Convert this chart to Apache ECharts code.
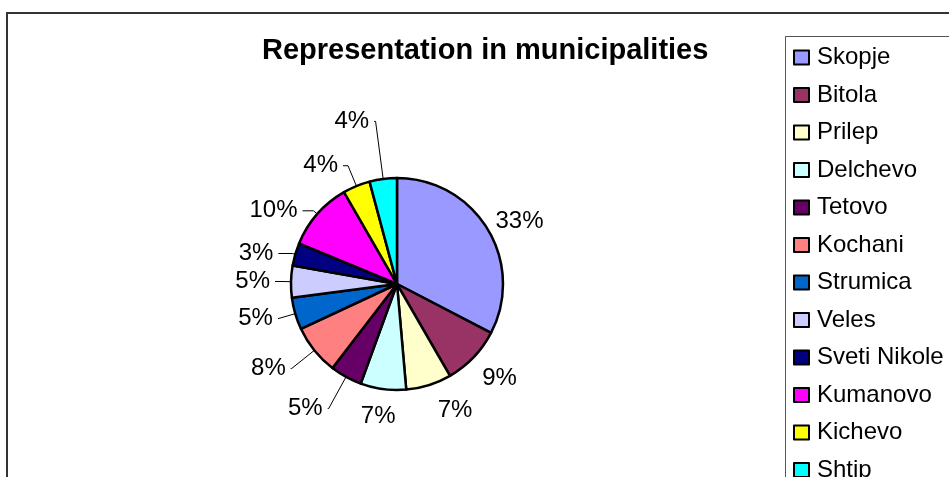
<!DOCTYPE html>
<html><head><meta charset="utf-8">
<script src="https://cdn.jsdelivr.net/npm/echarts@6/dist/echarts.min.js"></script>
<style>html,body{margin:0;padding:0;background:#fff}#c{width:949px;height:477px}</style>
</head><body><div id="c"></div>
<script>
const categories = ['Skopje','Bitola','Prilep','Delchevo','Tetovo','Kochani','Strumica','Veles','Sveti Nikole','Kumanovo','Kichevo','Shtip'];
const counts = [47,13,10,10,7,11,7,7,5,15,6,6];
const colors = ['#9999FF','#993366','#FFFFCC','#CCFFFF','#660066','#FF8080','#0066CC','#CCCCFF','#000080','#FF00FF','#FFFF00','#00FFFF'];
const titleText = 'Representation in municipalities';

// label line styling per slice: [length, length2, showLine]
const labelLineStyle = {
  'Skopje':[15,-10,false], 'Bitola':[30,-18,false], 'Prilep':[26,-4,false], 'Delchevo':[28,-21,false],
  'Tetovo':[36,1,true], 'Kochani':[29,1,true], 'Strumica':[18,0,true], 'Veles':[8,8,true],
  'Sveti Nikole':[3,14,true], 'Kumanovo':[5,11,true], 'Kichevo':[22,5,true], 'Shtip':[58,1.5,true]
};

const FONT = '"Liberation Sans", Arial, sans-serif';
const chart = echarts.init(document.getElementById('c'), null, {renderer:'canvas'});

const data = categories.map((name, i) => {
  const s = labelLineStyle[name];
  return {
    name, value: counts[i],
    itemStyle: {color: colors[i]},
    labelLine: {show: s[2], length: s[0], length2: s[1]}
  };
});

chart.setOption({
  animation: false,
  backgroundColor: '#fff',
  title: {
    text: titleText, left: 262, top: 36, padding: 0,
    textStyle: {fontFamily: FONT, fontSize: 29, fontWeight: 'bold', color: '#000'}
  },
  legend: {
    orient: 'vertical', left: 793, top: 45.5, height: 460, padding: 0,
    itemWidth: 15, itemHeight: 14, itemGap: 13.5, icon: 'rect',
    data: categories,
    itemStyle: {borderColor: '#000', borderWidth: 2},
    textStyle: {fontFamily: FONT, fontSize: 24, color: '#000', lineHeight: 24, padding: [0,0,0,3]}
  },
  graphic: [
    {type:'rect', z:-10, shape:{x:7, y:13, width:960, height:480}, style:{fill:'none', stroke:'#333', lineWidth:2}},
    {type:'rect', z:-10, shape:{x:785.5, y:36.5, width:200, height:500}, style:{fill:'#fff', stroke:'#555', lineWidth:1}}
  ],
  series: [{
    type: 'pie',
    center: [397, 284], radius: 106,
    startAngle: 90, clockwise: true,
    avoidLabelOverlap: false,
    percentPrecision: 2,
    itemStyle: {borderColor: '#000', borderWidth: 2.5},
    emphasis: {disabled: true},
    label: {
      show: true, position: 'outside',
      fontFamily: FONT, fontSize: 24, color: '#000',
      distanceToLabelLine: 5,
      formatter: p => Math.round(p.percent) + '%'
    },
    labelLine: {lineStyle: {color: '#000', width: 1}, smooth: false},
    data
  }]
});
</script></body></html>
